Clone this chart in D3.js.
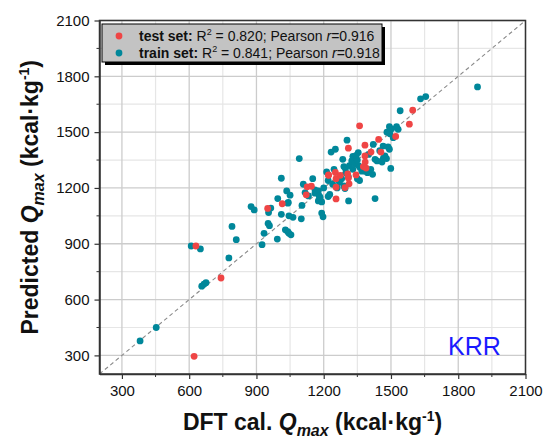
<!DOCTYPE html>
<html>
<head>
<meta charset="utf-8">
<script src="https://cdn.jsdelivr.net/npm/d3@7"></script>
<style>
  body { margin: 0; background: #fff; }
  svg { font-family: "Liberation Sans", Arial, sans-serif; }
</style>
</head>
<body>
<svg width="549" height="438"></svg>
<script>
// test set (red)
var testX = [622, 630, 742, 950, 1015, 1122, 1126, 1145, 1222, 1255, 1252, 1274, 1255, 1255, 1307, 1310, 1313,
  1295, 1344, 1310, 1360, 1384, 1384, 1385, 1377, 1389, 1411, 1445, 1455, 1521, 1582, 1597, 1221];
var testY = [295, 888, 716, 1090, 1115, 1163, 1206, 1209, 1270, 1250, 1283, 1268, 1204, 1141, 1275, 1254, 1222,
  1202, 1270, 1414, 1534, 1430, 1372, 1339, 1315, 1307, 1393, 1461, 1393, 1477, 1543, 1618, 1268];

// train set (teal)
var trainX = [381, 453, 609, 650, 656, 666, 675, 777, 791, 810, 876, 890, 925, 934, 952, 958, 954, 964, 993, 995,
  1011, 1011, 1029, 1040, 1045, 1054, 1035, 1050, 1042, 1040, 1045, 1063, 1091, 1100, 1103, 1109, 1117, 1132, 1151, 1161,
  1171, 1161, 1176, 1180, 1176, 1184, 1191, 1191, 1197, 1213, 1220, 1227, 1233, 1252, 1246, 1285, 1290, 1297, 1290, 1295,
  1304, 1311, 1315, 1325, 1330, 1340, 1350, 1355, 1362, 1370, 1354, 1330, 1345, 1300, 1310, 1280, 1270, 1260, 1350, 1360,
  1375, 1392, 1395, 1385, 1418, 1421, 1429, 1438, 1460, 1466, 1473, 1480, 1487, 1493, 1499, 1429, 1482, 1495, 1493, 1503,
  1525, 1532, 1510, 1541, 1632, 1655, 1886, 1450, 1400, 1410, 1220, 1200, 1240, 1473, 1465];
var trainY = [378, 450, 888, 872, 672, 683, 691, 824, 993, 922, 1100, 1082, 895, 956, 1009, 997, 1068, 1092, 925, 1143,
  1058, 1252, 975, 965, 956, 948, 1184, 1161, 1122, 1118, 1050, 1042, 1358, 1034, 1106, 1220, 1175, 1157, 1250, 1190,
  1176, 1172, 1184, 1157, 1130, 1149, 1125, 1065, 1045, 1286, 1154, 1165, 1393, 1408, 1300, 1354, 1315, 1305, 1211, 1197,
  1457, 1130, 1320, 1345, 1300, 1330, 1350, 1320, 1310, 1290, 1390, 1370, 1375, 1280, 1260, 1250, 1230, 1200, 1250, 1240,
  1300, 1300, 1282, 1290, 1273, 1434, 1354, 1345, 1339, 1360, 1365, 1358, 1420, 1408, 1305, 1143, 1500, 1491, 1529, 1518,
  1529, 1515, 1470, 1615, 1679, 1691, 1743, 1400, 1380, 1300, 1240, 1200, 1220, 1372, 1425];

var majorTicks = [300, 600, 900, 1200, 1500, 1800, 2100];
var minorTicks = [450, 750, 1050, 1350, 1650, 1950];
var legendLabels = [
  { name: "test set:", r2: "0.820", r: "0.916" },
  { name: "train set:", r2: "0.841", r: "0.918" }
];
var testColor = "#ef4545", trainColor = "#00879a";

var svg = d3.select("svg");
var mLeft = 99.5, mRight = 525.5, mTop = 20.5, mBottom = 374;

var x = d3.scaleLinear().domain([200, 2100]).range([mLeft, mRight]);
var y = d3.scaleLinear().domain([200, 2100]).range([mBottom, mTop]);

// grid
var grid = svg.append("g");
grid.selectAll(".gxm").data(minorTicks).enter().append("line")
  .attr("x1", d => x(d)).attr("x2", d => x(d)).attr("y1", mTop).attr("y2", mBottom)
  .attr("stroke", "#e6e6e6").attr("stroke-width", 1.2);
grid.selectAll(".gym").data(minorTicks).enter().append("line")
  .attr("y1", d => y(d)).attr("y2", d => y(d)).attr("x1", mLeft).attr("x2", mRight)
  .attr("stroke", "#e6e6e6").attr("stroke-width", 1.2);
grid.selectAll(".gx").data(majorTicks).enter().append("line")
  .attr("x1", d => x(d)).attr("x2", d => x(d)).attr("y1", mTop).attr("y2", mBottom)
  .attr("stroke", "#cccccc").attr("stroke-width", 1.3);
grid.selectAll(".gy").data(majorTicks).enter().append("line")
  .attr("y1", d => y(d)).attr("y2", d => y(d)).attr("x1", mLeft).attr("x2", mRight)
  .attr("stroke", "#cccccc").attr("stroke-width", 1.3);

// diagonal
svg.append("line")
  .attr("x1", x(200)).attr("y1", y(200)).attr("x2", x(2100)).attr("y2", y(2100))
  .attr("stroke", "#8a8a8a").attr("stroke-width", 1.1).attr("stroke-dasharray", "4,3");

// points
svg.append("g").selectAll("circle").data(trainX).enter().append("circle")
  .attr("cx", d => x(d)).attr("cy", (d, i) => y(trainY[i])).attr("r", 3.4)
  .attr("fill", trainColor);
svg.append("g").selectAll("circle").data(testX).enter().append("circle")
  .attr("cx", d => x(d)).attr("cy", (d, i) => y(testY[i])).attr("r", 3.4)
  .attr("fill", testColor);

// frame
svg.append("rect").attr("x", mLeft).attr("y", mTop).attr("width", mRight - mLeft).attr("height", mBottom - mTop)
  .attr("fill", "none").attr("stroke", "#333").attr("stroke-width", 1.5);

// axes
var xAxis = svg.append("g").attr("transform", "translate(0," + mBottom + ")")
  .call(d3.axisBottom(x).tickValues(majorTicks).tickFormat(d3.format("d"))
    .tickSize(5).tickSizeOuter(0).tickPadding(6));
xAxis.append("g").selectAll("line").data(minorTicks).enter().append("line")
  .attr("x1", d => x(d)).attr("x2", d => x(d)).attr("y1", 0).attr("y2", 3).attr("stroke", "#333");
var yAxis = svg.append("g").attr("transform", "translate(" + mLeft + ",0)")
  .call(d3.axisLeft(y).tickValues(majorTicks).tickFormat(d3.format("d"))
    .tickSize(5).tickSizeOuter(0).tickPadding(5));
yAxis.append("g").selectAll("line").data(minorTicks).enter().append("line")
  .attr("y1", d => y(d)).attr("y2", d => y(d)).attr("x1", 0).attr("x2", -3).attr("stroke", "#333");
[xAxis, yAxis].forEach(function(a) {
  a.select(".domain").attr("stroke", "#333").attr("stroke-width", 1.5);
  a.selectAll(".tick line").attr("stroke", "#333").attr("stroke-width", 1.2);
  a.selectAll("text").attr("font-size", 15).attr("fill", "#111")
    .attr("font-family", "'Liberation Sans', Arial, sans-serif");
});

// axis titles
var xt = svg.append("text").attr("x", (mLeft + mRight) / 2).attr("y", 430)
  .attr("text-anchor", "middle").attr("font-size", 23).attr("font-weight", "bold").attr("fill", "#111");
xt.append("tspan").text("DFT cal. ");
xt.append("tspan").text("Q").attr("font-style", "italic");
xt.append("tspan").text("max").attr("font-style", "italic").attr("font-size", 16).attr("dy", 6);
xt.append("tspan").text(" (kcal·kg").attr("dy", -6);
xt.append("tspan").text("-1").attr("font-size", 14).attr("dy", -9);
xt.append("tspan").text(")").attr("dy", 9);

var yt = svg.append("text").attr("transform", "translate(38," + (mTop + mBottom) / 2 + ") rotate(-90)")
  .attr("text-anchor", "middle").attr("font-size", 23).attr("font-weight", "bold").attr("fill", "#111");
yt.append("tspan").text("Predicted ");
yt.append("tspan").text("Q").attr("font-style", "italic");
yt.append("tspan").text("max").attr("font-style", "italic").attr("font-size", 16).attr("dy", 6);
yt.append("tspan").text(" (kcal·kg").attr("dy", -6);
yt.append("tspan").text("-1").attr("font-size", 14).attr("dy", -9);
yt.append("tspan").text(")").attr("dy", 9);

// legend
var lg = svg.append("g");
lg.append("rect").attr("x", 105).attr("y", 27).attr("width", 280).attr("height", 38).attr("fill", "#000");
lg.append("rect").attr("x", 102).attr("y", 24).attr("width", 280).attr("height", 38)
  .attr("fill", "#c3c3c3").attr("stroke", "#000").attr("stroke-width", 1);
legendLabels.forEach(function(l, i) {
  var cy = 36 + i * 17;
  lg.append("circle").attr("cx", 119).attr("cy", cy).attr("r", 3.4).attr("fill", i === 0 ? testColor : trainColor);
  var t = lg.append("text").attr("x", 139).attr("y", cy + 5).attr("font-size", 14).attr("fill", "#111");
  t.append("tspan").text(l.name).attr("font-weight", "bold");
  t.append("tspan").text(" R");
  t.append("tspan").text("2").attr("font-size", 9).attr("dy", -6);
  t.append("tspan").text(" = " + l.r2 + "; Pearson ").attr("dy", 6);
  t.append("tspan").text("r").attr("font-style", "italic");
  t.append("tspan").text("=" + l.r);
});

// model label
svg.append("text").attr("x", 448).attr("y", 355).attr("font-size", 25).attr("fill", "#1a1aff").text("KRR");
</script>
</body>
</html>
